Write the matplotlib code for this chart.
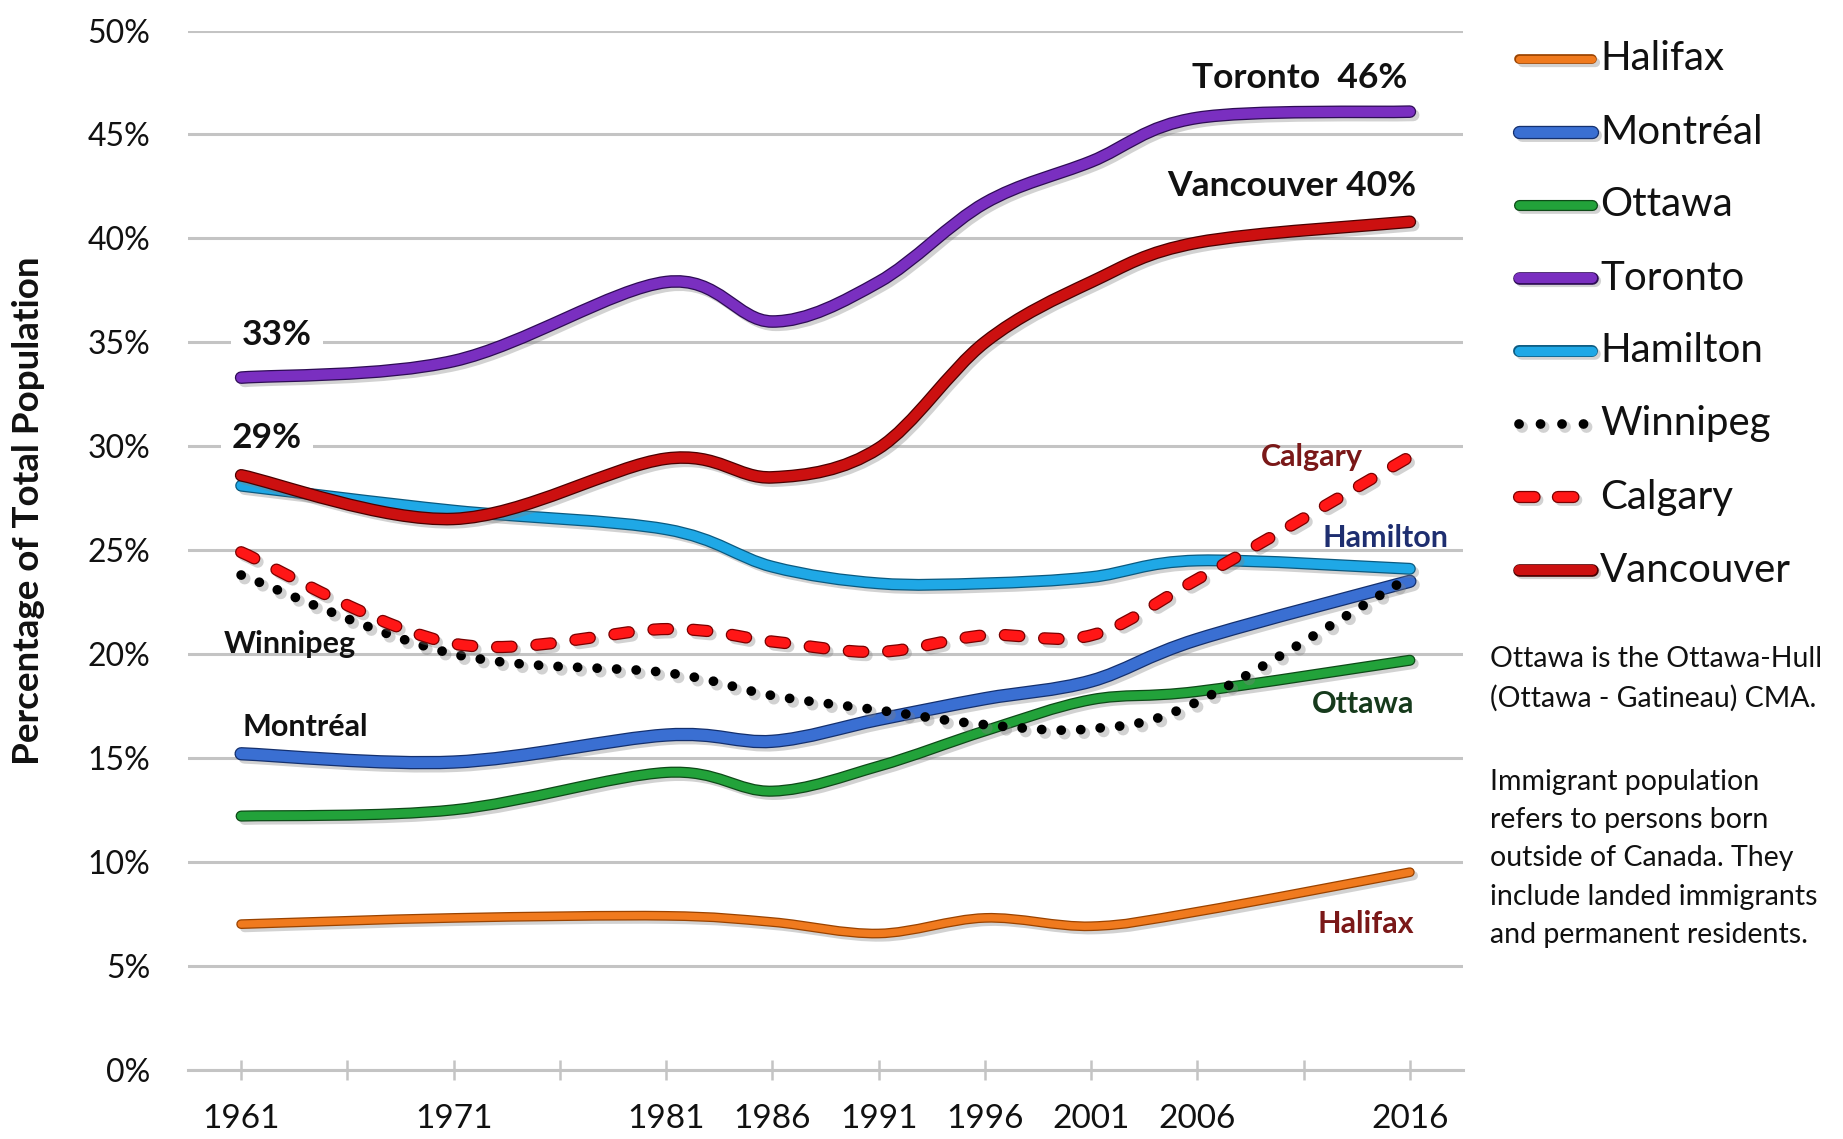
import numpy as np
import matplotlib
matplotlib.use("Agg")
import matplotlib.pyplot as plt
import matplotlib.patheffects as pe
from matplotlib.path import Path
from matplotlib.patches import PathPatch
from matplotlib.lines import Line2D

plt.rcParams['font.family'] = ['Lato', 'DejaVu Sans']

# Census years with data
years = [1961, 1971, 1981, 1986, 1991, 1996, 2001, 2006, 2016]

# Immigrant share of total population (%)
halifax   = [7.0, 7.3, 7.4, 7.1, 6.55, 7.3, 6.9, 7.6, 9.5]
montreal  = [15.2, 14.8, 16.1, 15.8, 16.85, 17.85, 18.7, 20.7, 23.5]
ottawa    = [12.2, 12.5, 14.3, 13.4, 14.6, 16.3, 17.8, 18.2, 19.7]
toronto   = [33.3, 34.1, 37.9, 36.0, 37.9, 41.7, 43.7, 45.8, 46.1]
hamilton  = [28.1, 26.9, 26.0, 24.2, 23.4, 23.4, 23.7, 24.5, 24.1]
winnipeg  = [23.8, 20.0, 19.1, 18.0, 17.3, 16.6, 16.4, 17.7, 23.7]
calgary   = [24.9, 20.5, 21.2, 20.6, 20.1, 20.9, 20.9, 23.6, 29.5]
vancouver = [28.6, 26.5, 29.4, 28.5, 29.9, 35.0, 37.9, 39.8, 40.8]

tick_years = list(range(1961, 2017, 5))
tick_labels = ['1961', '', '1971', '', '1981', '1986', '1991', '1996',
               '2001', '2006', '', '2016']
y_ticks = list(range(0, 51, 5))

cities = ['Halifax', 'Montréal', 'Ottawa', 'Toronto', 'Hamilton',
          'Winnipeg', 'Calgary', 'Vancouver']
values = [halifax, montreal, ottawa, toronto, hamilton,
          winnipeg, calgary, vancouver]

# colour, outline colour, width, dash style
styles = {
    'Halifax':   ('#F07A1E', '#9A4300', 5.2, 'solid'),
    'Montréal':  ('#3A6FD2', '#14306E', 7.8, 'solid'),
    'Ottawa':    ('#22A23A', '#0E4A18', 6.2, 'solid'),
    'Toronto':   ('#7A2FC0', '#2E0C55', 7.3, 'solid'),
    'Hamilton':  ('#1FA8E6', '#0B5A80', 6.8, 'solid'),
    'Winnipeg':  ('#000000', '#000000', 7.0, (0, (0.01, 2.0))),
    'Calgary':   ('#FF1616', '#7A0000', 7.0, (0, (1.5, 2.55))),
    'Vancouver': ('#CC1010', '#4A0000', 7.3, 'solid'),
}


def smooth_path(xs, ys):
    """Cubic Bezier path through the points (Catmull-Rom style smoothing)."""
    pts = np.column_stack([xs, ys]).astype(float)
    n = len(pts)
    verts = [pts[0]]
    codes = [Path.MOVETO]
    for i in range(n - 1):
        p0 = pts[max(i - 1, 0)]
        p1 = pts[i]
        p2 = pts[i + 1]
        p3 = pts[min(i + 2, n - 1)]
        c1 = p1 + (p2 - p0) / 6.0
        c2 = p2 - (p3 - p1) / 6.0
        verts += [c1, c2, p2]
        codes += [Path.CURVE4] * 3
    return Path(verts, codes)


def effects(edge, lw, dotted=False):
    shadow = pe.SimpleLineShadow(offset=(2.5, -2.5), shadow_color='#808080',
                                 alpha=0.35, linewidth=lw + 1.5)
    if dotted:
        return [shadow, pe.Normal()]
    return [shadow, pe.Stroke(linewidth=lw + 1.8, foreground=edge), pe.Normal()]


W, H = 1843, 1139
fig = plt.figure(figsize=(W / 100, H / 100), dpi=100)
fig.patch.set_facecolor('white')

left_px, right_px, top_px, bottom_px = 188, 1463, 30.6, 1069.6
ax = fig.add_axes([left_px / W, 1 - bottom_px / H,
                   (right_px - left_px) / W, (bottom_px - top_px) / H])

ax.set_xlim(1958.5, 2018.5)
ax.set_ylim(0, 50)

for name, vals in zip(cities, values):
    col, edge, lw, ls = styles[name]
    patch = PathPatch(smooth_path(years, vals), fill=False, edgecolor=col,
                      linewidth=lw, linestyle=ls, capstyle='round',
                      joinstyle='round', zorder=3)
    patch.set_path_effects(effects(edge, lw, dotted=(name == 'Winnipeg')))
    ax.add_patch(patch)

# Axes styling
ax.set_yticks(y_ticks)
ax.set_yticklabels([f'{v}%' for v in y_ticks])
ax.set_xticks(tick_years)
ax.set_xticklabels(tick_labels)
ax.yaxis.grid(True, color='#C4C4C4', linewidth=2.2, zorder=0)
ax.set_axisbelow(True)
for s in ['top', 'right', 'left']:
    ax.spines[s].set_visible(False)
ax.spines['bottom'].set_color('#C4C4C4')
ax.spines['bottom'].set_linewidth(2.2)
ax.tick_params(axis='y', length=0, pad=27, labelsize=23, labelcolor='#111111')
ax.tick_params(axis='x', direction='inout', length=14, width=1.8,
               color='#C4C4C4', pad=18, labelsize=24, labelcolor='#111111')

fig.text(29 / W, 1 - 511 / H, 'Percentage of Total Population', fontsize=26.5,
         fontweight='bold', rotation=90, ha='center', va='center',
         color='#111111')

# Line annotations
big = dict(fontsize=25.5, fontweight='bold', color='#111111', zorder=5)
small = dict(fontsize=22, fontweight='bold', zorder=5)
ax.text(2015.9, 47.7, 'Toronto  46%', ha='right', va='center', **big)
ax.text(2016.3, 42.5, 'Vancouver 40%', ha='right', va='center', **big)
box = dict(facecolor='white', edgecolor='none', pad=8)
ax.text(1962.7, 35.35, '33%', ha='center', va='center', bbox=box, **big)
ax.text(1962.2, 30.4, '29%', ha='center', va='center', bbox=box, **big)
ax.text(2013.8, 29.5, 'Calgary', ha='right', va='center', color='#7A1818', **small)
ax.text(2017.8, 25.6, 'Hamilton', ha='right', va='center', color='#1E2E70', **small)
ax.text(1960.2, 20.5, 'Winnipeg', ha='left', va='center', color='#111111', **small)
ax.text(1961.05, 16.5, 'Montréal', ha='left', va='center', color='#111111', **small)
ax.text(2016.2, 17.6, 'Ottawa', ha='right', va='center', color='#163A1C', **small)
ax.text(2016.2, 7.0, 'Halifax', ha='right', va='center', color='#7A1818', **small)

# Legend drawn at the right of the plot
for i, name in enumerate(cities):
    col, edge, lw, ls = styles[name]
    yf = 1 - (59 + i * 73) / H
    if name == 'Winnipeg':
        handle = Line2D([1519 / W, 1592 / W], [yf, yf], transform=fig.transFigure,
                        color=col, lw=lw, linestyle=(0, (0.01, 2.2)),
                        dash_capstyle='round')
    elif name == 'Calgary':
        handle = Line2D([1519 / W, 1592 / W], [yf, yf], transform=fig.transFigure,
                        color=col, lw=lw, linestyle=(0, (1.6, 2.4)),
                        dash_capstyle='round')
    else:
        handle = Line2D([1519 / W, 1592 / W], [yf, yf], transform=fig.transFigure,
                        color=col, lw=lw, solid_capstyle='round')
    handle.set_path_effects(effects(edge, lw, dotted=(name == 'Winnipeg')))
    fig.add_artist(handle)
    fig.text(1600 / W, yf, name, fontsize=29, ha='left', va='center',
             color='#111111')

# Notes
fig.text(1490 / W, 1 - 646 / H,
         'Ottawa is the Ottawa-Hull\n(Ottawa - Gatineau) CMA.',
         fontsize=20.5, ha='left', va='top', linespacing=1.58, color='#111111')
fig.text(1490 / W, 1 - 769 / H,
         'Immigrant population\nrefers to persons born\noutside of Canada. They\n'
         'include landed immigrants\nand permanent residents.',
         fontsize=20.5, ha='left', va='top', linespacing=1.58, color='#111111')

fig.savefig('out.png', dpi=100, facecolor='white')
